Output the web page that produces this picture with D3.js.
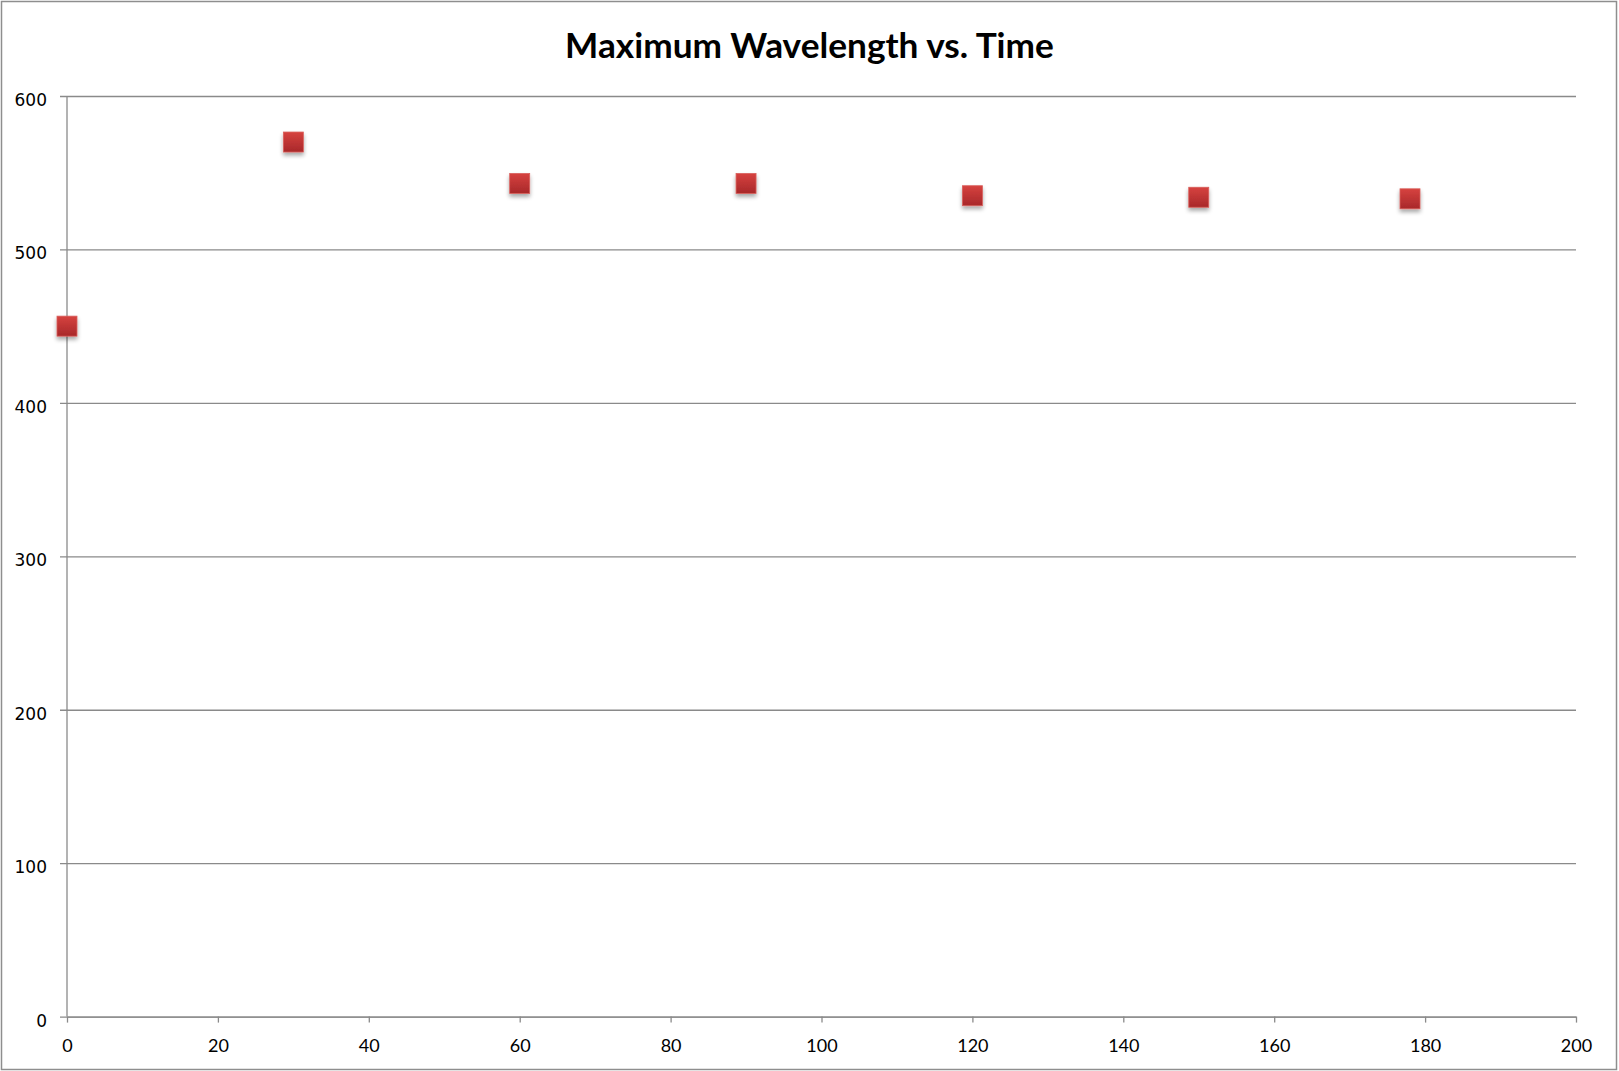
<!DOCTYPE html>
<html>
<head>
<meta charset="utf-8">
<script src="https://cdn.jsdelivr.net/npm/d3@7"></script>
<style>
html,body{margin:0;padding:0;background:#fff;}
svg{display:block;}
</style>
</head>
<body>
<svg id="chart" width="1619" height="1071"></svg>
<script>
const times = [0, 30, 60, 90, 120, 150, 178];
const wavelengths = [450, 570, 543, 543, 535, 534, 533];
const xTicks = [0, 20, 40, 60, 80, 100, 120, 140, 160, 180, 200];
const yTicks = [0, 100, 200, 300, 400, 500, 600];
const titleText = "Maximum Wavelength vs. Time";

const W = 1619, H = 1071;
const svg = d3.select("#chart");
const x = d3.scaleLinear().domain([0, 200]).range([67, 1576]);
const y = d3.scaleLinear().domain([0, 600]).range([1016.6, 96]);

const defs = svg.append("defs");
const grad = defs.append("linearGradient").attr("id", "mk").attr("x1", 0).attr("y1", 0).attr("x2", 0).attr("y2", 1);
grad.append("stop").attr("offset", "0%").attr("stop-color", "#d6423f");
grad.append("stop").attr("offset", "100%").attr("stop-color", "#a8282a");
const f = defs.append("filter").attr("id", "sh").attr("x", "-50%").attr("y", "-50%").attr("width", "200%").attr("height", "200%");
f.append("feGaussianBlur").attr("in", "SourceAlpha").attr("stdDeviation", 2).attr("result", "b");
f.append("feOffset").attr("in", "b").attr("dx", 0).attr("dy", 3).attr("result", "o");
f.append("feComponentTransfer").attr("in", "o").attr("result", "o2")
  .append("feFuncA").attr("type", "linear").attr("slope", 0.35);
const m = f.append("feMerge");
m.append("feMergeNode").attr("in", "o2");
m.append("feMergeNode").attr("in", "SourceGraphic");

// frame
svg.append("rect").attr("x", 1.5).attr("y", 1.5).attr("width", 1615).attr("height", 1068)
  .attr("fill", "#fff").attr("stroke", "#8e8e8e").attr("stroke-width", 1.5);

// title
const title = svg.append("text").attr("x", 809.5).attr("y", 58)
  .attr("text-anchor", "middle").attr("font-family", "Lato, 'Open Sans', sans-serif")
  .attr("font-weight", "bold").attr("font-size", 32).attr("fill", "#000").text(titleText);
const tl = title.node().getComputedTextLength();
if (tl > 0) title.attr("font-size", 32 * 489 / tl);

// y gridlines
const yAxis = d3.axisLeft(y).tickValues(yTicks).tickSizeOuter(0);
const gy = svg.append("g").attr("transform", `translate(${x(0)},0)`).call(yAxis);
gy.select(".domain").remove();
gy.selectAll(".tick line").attr("x1", -7).attr("x2", x(200) - x(0)).attr("stroke", "#8a8a8a").attr("stroke-width", 1.3);
gy.selectAll(".tick text").attr("x", -20).attr("dy", "9.5").attr("font-family", "'DejaVu Sans', sans-serif")
  .attr("font-size", 17).attr("fill", "#000");

// left axis line
svg.append("line").attr("x1", x(0)).attr("x2", x(0)).attr("y1", y(600)).attr("y2", y(0))
  .attr("stroke", "#8a8a8a").attr("stroke-width", 1.3);

// x axis
const xAxis = d3.axisBottom(x).tickValues(xTicks).tickSize(6).tickSizeOuter(0);
const gx = svg.append("g").attr("transform", `translate(0,${y(0)})`).call(xAxis);
gx.select(".domain").attr("stroke", "#8a8a8a").attr("stroke-width", 1.3);
gx.selectAll(".tick line").attr("stroke", "#8a8a8a").attr("stroke-width", 1.3);
gx.selectAll(".tick text").attr("y", 35).attr("dy", 0).attr("font-family", "Lato, 'Open Sans', sans-serif")
  .attr("font-size", 18).attr("fill", "#000");

// markers
const data = times.map((t, i) => ({ t, v: wavelengths[i] }));
const s = 20;
svg.append("g").selectAll("rect").data(data).join("rect")
  .attr("x", d => x(d.t) - s / 2).attr("y", d => y(d.v) - s / 2)
  .attr("width", s).attr("height", s)
  .attr("fill", "url(#mk)").attr("stroke", "#d9605c").attr("stroke-width", 0.8)
  .attr("filter", "url(#sh)");
</script>
</body>
</html>
